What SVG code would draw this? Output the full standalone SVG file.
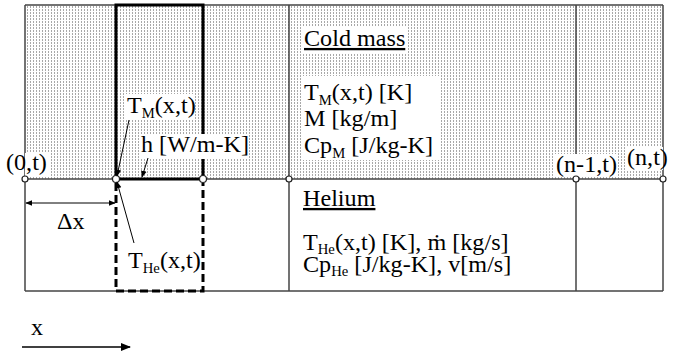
<svg xmlns="http://www.w3.org/2000/svg" width="683" height="354" viewBox="0 0 683 354">
  <style>
    text { font-family: "Liberation Serif", "Times New Roman", serif; font-size: 23px; fill: #000; }
    .sub { font-size: 14px; }
    .u { text-decoration: underline; }
    .frame { fill: none; stroke: #444; stroke-width: 1.5; }
    .bold { fill: none; stroke: #000; stroke-width: 3; }
    .dash { fill: none; stroke: #000; stroke-width: 3; stroke-dasharray: 8 4; }
    .node { fill: #fff; stroke: #222; stroke-width: 1.2; }
    .bg { fill: #fff; }
    .lead { fill: none; stroke: #000; stroke-width: 1; }
    .axis { fill: none; stroke: #000; stroke-width: 1.5; }
  </style>
  <defs>
    <pattern id="dots" width="3" height="3" patternUnits="userSpaceOnUse">
      <rect width="3" height="3" fill="#fff"/>
      <rect x="0" y="0" width="1" height="2" fill="#a8a8a8"/>
    </pattern>
    <marker id="ah" viewBox="0 0 10 10" refX="9" refY="5" markerWidth="7" markerHeight="7" orient="auto-start-reverse" markerUnits="userSpaceOnUse">
      <path d="M0,1 L10,5 L0,9 Z" fill="#000"/>
    </marker>
    <marker id="ahBig" viewBox="0 0 10 10" refX="9" refY="5" markerWidth="10" markerHeight="10" orient="auto" markerUnits="userSpaceOnUse">
      <path d="M0,1 L10,5 L0,9 Z" fill="#000"/>
    </marker>
  </defs>

  <!-- cold mass band (dotted) and helium band -->
  <g id="cold-mass">
    <rect x="25" y="5" width="638" height="174" fill="url(#dots)"/>
    <rect class="bg" x="302" y="27" width="106" height="26"/>
    <rect class="bg" x="302" y="76" width="138" height="84"/>
    <text class="u" transform="translate(304,46) scale(1.05,1)">Cold mass</text>
    <text transform="translate(304,100) scale(1.05,1)">T<tspan class="sub" dy="5">M</tspan><tspan dy="-5">(x,t) [K]</tspan></text>
    <text transform="translate(304,126) scale(1.05,1)">M [kg/m]</text>
    <text transform="translate(304,153) scale(1.05,1)">Cp<tspan class="sub" dy="5">M</tspan><tspan dy="-5"> [J/kg-K]</tspan></text>
  </g>

  <g id="helium">
    <text class="u" transform="translate(303,206) scale(1.05,1)">Helium</text>
    <text transform="translate(303,250) scale(1.05,1)">T<tspan class="sub" dy="4">He</tspan><tspan dy="-4">(x,t) [K], ṁ [kg/s]</tspan></text>
    <text transform="translate(303,272) scale(1.05,1)">Cp<tspan class="sub" dy="4">He</tspan><tspan dy="-4"> [J/kg-K], v[m/s]</tspan></text>
  </g>

  <!-- outer frame and cell divisions -->
  <g id="grid">
    <line class="frame" x1="25" y1="5" x2="663" y2="5" stroke-width="2.5"/>
    <line class="frame" x1="25" y1="179" x2="663" y2="179"/>
    <line class="frame" x1="25" y1="291" x2="663" y2="291"/>
    <line class="frame" x1="25" y1="5" x2="25" y2="291"/>
    <line class="frame" x1="289" y1="5" x2="289" y2="291"/>
    <line class="frame" x1="576" y1="5" x2="576" y2="291"/>
    <line class="frame" x1="663" y1="5" x2="663" y2="291"/>
  </g>

  <!-- control volume: solid in the cold mass, dashed in the helium -->
  <g id="control-volume">
    <path class="bold" d="M116,179 V5 H203 V179"/>
    <line class="bold" x1="116" y1="179" x2="203" y2="179"/>
    <path class="dash" d="M116,183 V291 H203 V183"/>
  </g>

  <g id="labels">
    <rect class="bg" x="126" y="94" width="69" height="26"/>
    <text transform="translate(127,113) scale(1.05,1)">T<tspan class="sub" dy="5">M</tspan><tspan dy="-5">(x,t)</tspan></text>
    <rect class="bg" x="139" y="134" width="108" height="25"/>
    <text transform="translate(141,152) scale(1.05,1)">h [W/m-K]</text>
    <rect class="bg" x="126" y="250" width="73" height="26"/>
    <text transform="translate(128,268) scale(1.05,1)">T<tspan class="sub" dy="5">He</tspan><tspan dy="-5">(x,t)</tspan></text>
    <text transform="translate(57,229) scale(1.05,1)">Δx</text>
    <rect class="bg" x="25" y="153" width="24" height="24"/>
    <text transform="translate(6,170) scale(1.05,1)">(0,t)</text>
    <rect class="bg" x="555" y="154" width="62" height="23"/>
    <text transform="translate(556,172) scale(1.05,1)">(n-1,t)</text>
    <rect class="bg" x="626" y="147" width="37" height="23"/>
    <text transform="translate(627,165) scale(1.05,1)">(n,t)</text>
    <text transform="translate(31,335) scale(1.05,1)">x</text>
  </g>

  <!-- nodes on the cold mass / helium interface -->
  <g id="nodes">
    <circle id="node-0" class="node" cx="25" cy="179" r="3"/>
    <circle id="node-i" class="node" cx="116" cy="179" r="3.5"/>
    <circle id="node-i1" class="node" cx="203" cy="179" r="3.5"/>
    <circle id="node-2" class="node" cx="289" cy="179" r="3"/>
    <circle id="node-n1" class="node" cx="576" cy="179" r="3"/>
    <circle id="node-n" class="node" cx="663" cy="179" r="3"/>
  </g>

  <g id="connectors">
    <line class="lead" x1="129" y1="120" x2="117" y2="176" marker-end="url(#ah)"/>
    <line class="lead" x1="148" y1="158" x2="142" y2="177" marker-end="url(#ah)"/>
    <line class="lead" x1="134" y1="243" x2="117" y2="182" marker-end="url(#ah)"/>
    <line class="lead" x1="26" y1="203" x2="115" y2="203" marker-start="url(#ah)" marker-end="url(#ah)"/>
    <line class="axis" x1="22" y1="347" x2="130" y2="347" marker-end="url(#ahBig)"/>
  </g>
</svg>
